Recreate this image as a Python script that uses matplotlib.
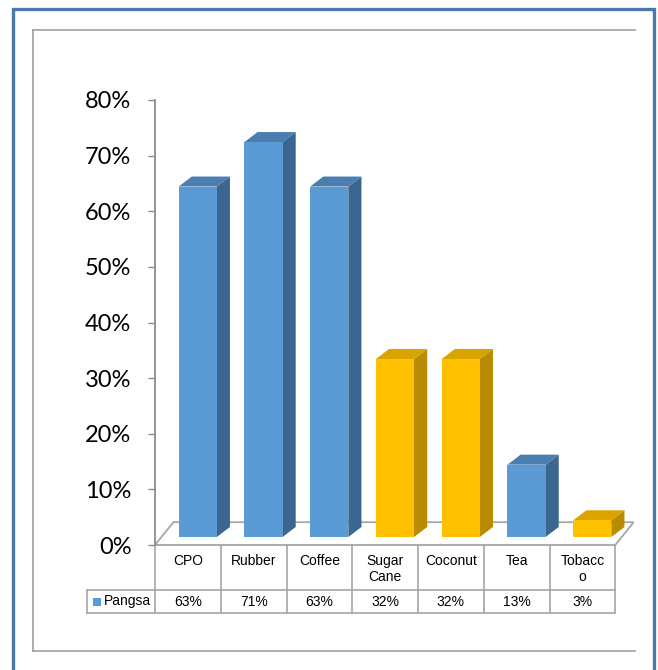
import numpy as np
import matplotlib
matplotlib.use("Agg")
import matplotlib.pyplot as plt
from matplotlib.patches import Rectangle, Polygon
from matplotlib.lines import Line2D

# data
categories = ["CPO", "Rubber", "Coffee", "Sugar\nCane", "Coconut", "Tea", "Tobacc\no"]
values = [0.63, 0.71, 0.63, 0.32, 0.32, 0.13, 0.03]
labels = ["63%", "71%", "63%", "32%", "32%", "13%", "3%"]
series_name = "Pangsa"
is_yellow = [False, False, False, True, True, False, True]

W, H = 658, 670
fig = plt.figure(figsize=(W / 100, H / 100), dpi=100)


def fx(px):
    return px / W


def fy(py):
    return 1 - py / H


# outer blue border and inner grey frame
fig.add_artist(Rectangle((fx(13), fy(680)), fx(654) - fx(13), fy(9) - fy(680),
                         transform=fig.transFigure, fill=False,
                         edgecolor="#4a78aa", linewidth=2.4))
for xs, ys in [([33, 33], [30, 651]), ([33, 635], [30, 30]), ([33, 635], [651, 651])]:
    fig.add_artist(Line2D([fx(x) for x in xs], [fy(y) for y in ys],
                          transform=fig.transFigure, color="#a0a0a0", linewidth=1.2))

ax = fig.add_axes([fx(155), fy(545), fx(635) - fx(155), fy(100) - fy(545)])
ax.set_xlim(0, 7.3)
ax.set_ylim(0, 0.8)
for s in ["top", "right", "bottom"]:
    ax.spines[s].set_visible(False)
ax.spines["left"].set_color("#8c8c8c")
ax.spines["left"].set_linewidth(1.3)
ax.set_xticks([])
ax.set_yticks(np.arange(0, 0.81, 0.1))
ax.set_yticklabels([f"{int(round(t * 100))}%" for t in np.arange(0, 0.81, 0.1)],
                   fontsize=17, family=["Lato", "DejaVu Sans"])
ax.tick_params(axis="y", direction="out", length=5, width=1, color="#8c8c8c", pad=12)

# 3d floor
shift, lift = 0.28, 0.041
floor = Polygon([(0, 0), (7, 0), (7 + shift, lift), (shift, lift)], closed=True,
                facecolor="white", edgecolor="#a6a6a6", linewidth=1.3, clip_on=False)
ax.add_patch(floor)

# 3d bars
bw, off, base = 0.58, 0.15, 0.0144
ddx, ddy = 0.2, 0.018
for i, (v, y) in enumerate(zip(values, is_yellow)):
    if y:
        front, side, top = "#ffc000", "#b88b00", "#d9a400"
    else:
        front, side, top = "#5b9bd5", "#3a6690", "#4a7db0"
    x0 = i + 0.5 + off - bw / 2
    x1 = x0 + bw
    ax.add_patch(Polygon([(x1, base), (x1 + ddx, base + ddy), (x1 + ddx, base + v + ddy),
                          (x1, base + v)], closed=True, facecolor=side, edgecolor="none",
                         clip_on=False))
    ax.add_patch(Polygon([(x0, base + v), (x1, base + v), (x1 + ddx, base + v + ddy),
                          (x0 + ddx, base + v + ddy)], closed=True, facecolor=top,
                         edgecolor="none", clip_on=False))
    ax.bar(x0, v, width=bw, bottom=base, align="edge", color=front, edgecolor="none",
           clip_on=False)

# data table under the chart
ppu = 445 / 0.8
r1 = -45 / ppu
r2 = -68 / ppu
lx = (87 - 155) / 65.7
tcol = "#a6a6a6"
tkw = dict(color=tcol, linewidth=1.2, clip_on=False)
for k in range(8):
    ax.plot([k, k], [0, r2], **tkw)
ax.plot([lx, 7], [r1, r1], **tkw)
ax.plot([lx, 7], [r2, r2], **tkw)
ax.plot([lx, lx], [r1, r2], **tkw)
tfont = ["Liberation Sans", "DejaVu Sans"]
tsize = 10
for k, (c, l) in enumerate(zip(categories, labels)):
    ax.text(k + 0.5, -9 / ppu, c, ha="center", va="top", fontsize=tsize,
            family=tfont, linespacing=1.2, clip_on=False)
    ax.text(k + 0.5, (r1 + r2) / 2, l, ha="center", va="center", fontsize=tsize,
            family=tfont, clip_on=False)
ax.add_patch(Rectangle((lx + 6 / 65.7, (r1 + r2) / 2 - 4 / ppu), 8 / 65.7, 8 / ppu,
                       facecolor="#5b9bd5", edgecolor="none", clip_on=False))
ax.text(lx + 17 / 65.7, (r1 + r2) / 2, series_name, ha="left", va="center",
        fontsize=tsize, family=tfont, clip_on=False)

fig.savefig("out.png", dpi=100)
